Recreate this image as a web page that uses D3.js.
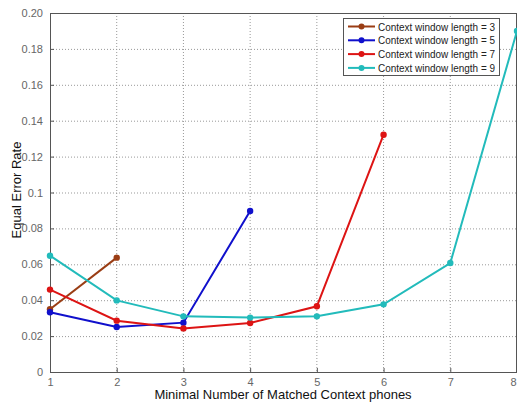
<!DOCTYPE html>
<html><head><meta charset="utf-8">
<script src="https://cdn.jsdelivr.net/npm/d3@7"></script>
<style>body{margin:0;background:#fff}svg{display:block;font-family:"Liberation Sans",Arial,sans-serif}</style>
</head><body><svg id="c" width="517" height="403"></svg>
<script>
const xTicks = [1,2,3,4,5,6,7,8];
const yTicks = [0,0.02,0.04,0.06,0.08,0.1,0.12,0.14,0.16,0.18,0.2];
const yTickLabels = ["0","0.02","0.04","0.06","0.08","0.1","0.12","0.14","0.16","0.18","0.20"];
const seriesNames = ["Context window length = 3","Context window length = 5","Context window length = 7","Context window length = 9"];
const seriesColors = ["#9a3d14","#1010cc","#dd1414","#22bbbb"];
const s3 = [0.035,0.0637];
const s5 = [0.0333,0.0251,0.0275,0.0897];
const s7 = [0.0459,0.0286,0.0243,0.0273,0.0366,0.1322];
const s9 = [0.0648,0.0399,0.031,0.0303,0.031,0.0377,0.0607,0.19];
const seriesData = [s3,s5,s7,s9];

const svg = d3.select("#c");
const L=50, R=517, T=13, B=372;
const x = d3.scaleLinear().domain([1,8]).range([L,R]);
const y = d3.scaleLinear().domain([0,0.2]).range([B,T]);

// grid
const g = svg.append("g");
g.selectAll(".gx").data(xTicks.slice(1,-1)).enter().append("line")
 .attr("x1",d=>x(d)).attr("x2",d=>x(d)).attr("y1",T).attr("y2",B)
 .attr("stroke","#999").attr("stroke-width",1).attr("stroke-dasharray","1,2");
g.selectAll(".gy").data(yTicks.slice(1,-1)).enter().append("line")
 .attr("y1",d=>y(d)+0.5).attr("y2",d=>y(d)+0.5).attr("x1",L).attr("x2",R)
 .attr("stroke","#999").attr("stroke-width",1).attr("stroke-dasharray","1,2");

// axes
const xa = svg.append("g").attr("transform",`translate(0,${B})`)
 .call(d3.axisBottom(x).tickValues(xTicks).tickFormat(d3.format("d")).tickSizeInner(-4).tickSizeOuter(0).tickPadding(6));
const ya = svg.append("g").attr("transform",`translate(${L},0)`)
 .call(d3.axisLeft(y).tickValues(yTicks).tickFormat((d,i)=>yTickLabels[i]).tickSizeInner(-4).tickSizeOuter(0).tickPadding(7));
[xa,ya].forEach(a=>{
  a.selectAll("path,line").attr("stroke","#555");
  a.selectAll("text").attr("fill","#666").style("font-size","11px");
});
xa.selectAll(".tick text").filter(d=>d===8).attr("text-anchor","end").attr("dx","-1");
svg.append("line").attr("x1",L).attr("x2",R).attr("y1",T+0.5).attr("y2",T+0.5).attr("stroke","#555");
svg.append("line").attr("x1",R-0.5).attr("x2",R-0.5).attr("y1",T).attr("y2",B).attr("stroke","#555");

// series
const line = d3.line().x((d,i)=>x(i+1)).y(d=>y(d));
seriesData.forEach((s,k)=>{
  svg.append("path").datum(s).attr("d",line).attr("fill","none")
   .attr("stroke",seriesColors[k]).attr("stroke-width",2);
  svg.selectAll(null).data(s).enter().append("circle")
   .attr("cx",(d,i)=>x(i+1)).attr("cy",d=>y(d)).attr("r",3.2).attr("fill",seriesColors[k]);
});

// labels
svg.append("text").attr("x",283).attr("y",399).attr("text-anchor","middle")
 .style("font-size","13px").attr("fill","#111").text("Minimal Number of Matched Context phones");
svg.append("text").attr("transform","translate(21,190) rotate(-90)").attr("text-anchor","middle")
 .style("font-size","13px").attr("fill","#111").text("Equal Error Rate");

// legend
const lg = svg.append("g");
lg.append("rect").attr("x",343.5).attr("y",18.5).attr("width",156).attr("height",57)
 .attr("fill","#fff").attr("stroke","#555");
seriesNames.forEach((n,k)=>{
  const yy = 26.5 + k*13.8;
  lg.append("line").attr("x1",348).attr("x2",375).attr("y1",yy).attr("y2",yy)
   .attr("stroke",seriesColors[k]).attr("stroke-width",2);
  lg.append("circle").attr("cx",361.5).attr("cy",yy).attr("r",3).attr("fill",seriesColors[k]);
  lg.append("text").attr("x",378).attr("y",yy+4).style("font-size","11.5px")
   .attr("textLength",117).attr("lengthAdjust","spacingAndGlyphs").attr("fill","#222").text(n);
});
</script></body></html>
